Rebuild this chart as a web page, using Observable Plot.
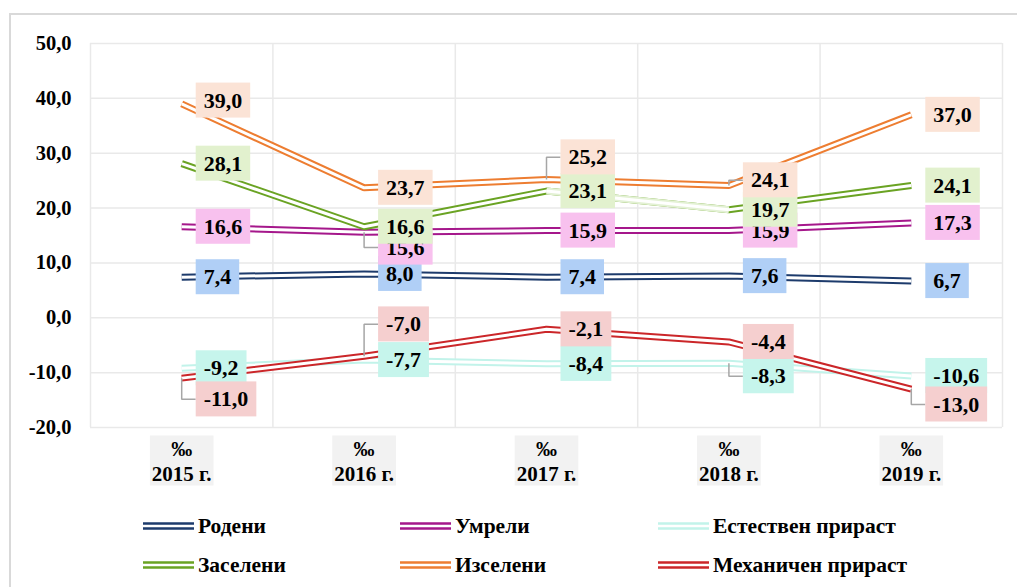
<!DOCTYPE html>
<html>
<head>
<meta charset="utf-8">
<script src="https://cdn.jsdelivr.net/npm/d3@7"></script>
<script src="https://cdn.jsdelivr.net/npm/@observablehq/plot@0.6"></script>
<style>
  html, body { margin: 0; padding: 0; background: #fff; }
  #wrap { position: relative; width: 1017px; height: 587px; overflow: hidden; font-family: "Liberation Serif", "Times New Roman", serif; }
  #frame { position: absolute; left: 9px; top: 13px; width: 1100px; height: 700px; border-left: 2px solid #d9d9d9; border-top: 2px solid #d9d9d9; box-sizing: border-box; }
  #chart { position: absolute; left: 0; top: 0; }
  #chart svg, #chart svg text { font-family: "Liberation Serif", "Times New Roman", serif !important; font-weight: bold; }
  .leg { position: absolute; height: 26px; display: flex; align-items: center; font-weight: bold; font-size: 21.5px; color: #000; white-space: nowrap; font-family: "Liberation Serif", "Times New Roman", serif; }
  .leg svg { margin-right: 4px; }
</style>
</head>
<body>
<div id="wrap">
  <div id="frame"></div>
  <div id="chart"></div>
</div>
<script>
// ---------------- data ----------------
const years = ["2015 г.", "2016 г.", "2017 г.", "2018 г.", "2019 г."];
const unitLabel = "‰";
const seriesNames = ["Родени", "Умрели", "Естествен прираст", "Заселени", "Изселени", "Механичен прираст"];
const rodeni     = [7.4, 8.0, 7.4, 7.6, 6.7];
const umreli     = [16.6, 15.6, 15.9, 15.9, 17.3];
const estestven  = [-9.2, -7.7, -8.4, -8.3, -10.6];
const zaseleni   = [28.1, 16.6, 23.1, 19.7, 24.1];
const izseleni   = [39.0, 23.7, 25.2, 24.1, 37.0];
const mehanichen = [-11.0, -7.0, -2.1, -4.4, -13.0];
const yTicks = [-20, -10, 0, 10, 20, 30, 40, 50];

// ---------------- styling / layout ----------------
const lineColors = ["#1d3b6c", "#a5178b", "#c2f3ea", "#6aa323", "#ed7d31", "#cb2629"];
const boxColors  = ["#b0cff6", "#f8c1ee", "#c6f5ec", "#e2f1ce", "#fbe3d6", "#f5cfcf"];
const paleColor  = "#e3f1d4";               // 2017–2018 segment of "Заселени"
const paleSeg    = {series: 3, from: 2, to: 3};
// label vertical nudges (in ‰ units), per series, per year
const labelNudge = [
  [0, 0, 0, 0, 0],
  [0, -2.8, 0, 0, 0],
  [0, 0, 0, -2.35, 0],
  [0, 0, 0, 0, 0],
  [0.6, 0, 4.05, 0.97, 0],
  [-3.87, 5.8, 0, 0, -2.8]
];

const allValues = [rodeni, umreli, estestven, zaseleni, izseleni, mehanichen];
const fmt = v => v.toFixed(1).replace(".", ",");

const rows = seriesNames.flatMap((s, si) => allValues[si].map((v, i) => ({series: s, si, i, year: years[i], value: v})));
const labelRows = rows.map(d => ({...d, nudge: labelNudge[d.si][d.i], bg: boxColors[d.si]}));

const W = 1017, H = 500, mL = 90, mR = 15, mT = 43, mB = 73;
const stepPx = (W - mL - mR) / years.length;
const gapUnits = 14 / stepPx;   // label box starts 14px right of the point
const padX = 8, padY = 5;
const leaderRows = labelRows.filter(d => Math.abs(d.nudge) > 0.8).flatMap((d, k) => [
  {id: k, x: d.i, y: d.value},
  {id: k, x: d.i, y: d.value + d.nudge},
  {id: k, x: d.i + gapUnits, y: d.value + d.nudge}
]);

const lineOpts = {x: "i", y: "value", strokeLinejoin: "miter", strokeLinecap: "butt"};
const lineMarks = [];
seriesNames.forEach((s, si) => {
  const data = rows.filter(d => d.si === si);
  lineMarks.push(Plot.line(data, {...lineOpts, stroke: lineColors[si], strokeWidth: 7}));
  lineMarks.push(Plot.line(data, {...lineOpts, stroke: "#fff", strokeWidth: 3}));
  if (si === paleSeg.series) {
    const seg = data.filter(d => d.i >= paleSeg.from && d.i <= paleSeg.to);
    lineMarks.push(Plot.line(seg, {...lineOpts, stroke: paleColor, strokeWidth: 7}));
    lineMarks.push(Plot.line(seg, {...lineOpts, stroke: "#fff", strokeWidth: 3}));
  }
});

const serif = "Liberation Serif";

const svg = Plot.plot({
  width: W, height: H,
  marginTop: mT, marginBottom: mB, marginLeft: mL, marginRight: mR,
  style: {fontFamily: serif, fontSize: "20.5px", fontWeight: "bold", color: "#000", background: "transparent", overflow: "visible"},
  x: {domain: [-0.5, years.length - 0.5], axis: null},
  y: {domain: [-20, 50], ticks: yTicks, tickFormat: fmt, tickSize: 0, tickPadding: 19, label: null},
  marks: [
    Plot.ruleY(yTicks, {stroke: "#e9e9e9", strokeWidth: 1.5}),
    Plot.ruleX(d3.range(-0.5, years.length, 1), {stroke: "#e9e9e9", strokeWidth: 1.5}),
    ...lineMarks,
    Plot.line(leaderRows, {x: "x", y: "y", z: "id", stroke: "#a6a6a6", strokeWidth: 1.5, strokeLinejoin: "miter", strokeLinecap: "butt"}),
    Plot.text(labelRows, {x: "i", y: d => d.value + d.nudge, text: d => fmt(d.value), textAnchor: "start", dx: 14 + padX,
      fontSize: 22, fontWeight: "bold", fontFamily: serif, fill: "#000"}),
    Plot.text(years, {x: (d, i) => i, frameAnchor: "bottom", dy: 28, text: () => unitLabel,
      fontSize: 21, fontWeight: "bold", fontFamily: serif, fill: "#000"}),
    Plot.text(years, {x: (d, i) => i, frameAnchor: "bottom", dy: 53, text: d => d,
      fontSize: 21, fontWeight: "bold", fontFamily: serif, fill: "#000"})
  ]
});
document.getElementById("chart").appendChild(svg);

// ---- label backgrounds (sized from the rendered text) ----
const NS = "http://www.w3.org/2000/svg";
const textGroups = svg.querySelectorAll('g[aria-label="text"]');
const [lblG, pmG, yrG] = textGroups;
if (lblG) {
  lblG.querySelectorAll("text").forEach((t, k) => {
    const b = t.getBBox();
    const r = document.createElementNS(NS, "rect");
    r.setAttribute("x", b.x - padX);
    r.setAttribute("y", b.y - padY);
    r.setAttribute("width", b.width + 2 * padX);
    r.setAttribute("height", b.height + 2 * padY);
    r.setAttribute("fill", labelRows[k].bg);
    const tr = t.getAttribute("transform");
    if (tr) r.setAttribute("transform", tr);
    t.parentNode.insertBefore(r, t);
  });
}

// ---- category label backgrounds ----
if (pmG && yrG) {
  const svgRect = svg.getBoundingClientRect();
  const pm = pmG.querySelectorAll("text");
  const yr = yrG.querySelectorAll("text");
  const bgG = document.createElementNS(NS, "g");
  pm.forEach((t, k) => {
    const a = t.getBoundingClientRect(), c = yr[k].getBoundingClientRect();
    const x0 = Math.min(a.left, c.left) - 2 - svgRect.left, x1 = Math.max(a.right, c.right) + 2 - svgRect.left;
    const y0 = a.top - 1 - svgRect.top, y1 = c.bottom - svgRect.top;
    const r = document.createElementNS(NS, "rect");
    r.setAttribute("x", x0); r.setAttribute("y", y0);
    r.setAttribute("width", x1 - x0); r.setAttribute("height", y1 - y0);
    r.setAttribute("fill", "#f2f2f2");
    bgG.appendChild(r);
  });
  pmG.parentNode.insertBefore(bgG, pmG);
}

// ---- legend ----
const wrap = document.getElementById("wrap");
const legCols = [143, 400, 658], legRows = [526, 565];
seriesNames.forEach((s, si) => {
  const el = document.createElement("div");
  el.className = "leg";
  el.style.left = legCols[si % 3] + "px";
  el.style.top = (legRows[Math.floor(si / 3)] - 13) + "px";
  el.innerHTML = `<svg width="51" height="10"><line x1="0" x2="51" y1="2.5" y2="2.5" stroke="${lineColors[si]}" stroke-width="2.5"/><line x1="0" x2="51" y1="7.5" y2="7.5" stroke="${lineColors[si]}" stroke-width="2.5"/></svg><span>${s}</span>`;
  wrap.appendChild(el);
});
</script>
</body>
</html>
